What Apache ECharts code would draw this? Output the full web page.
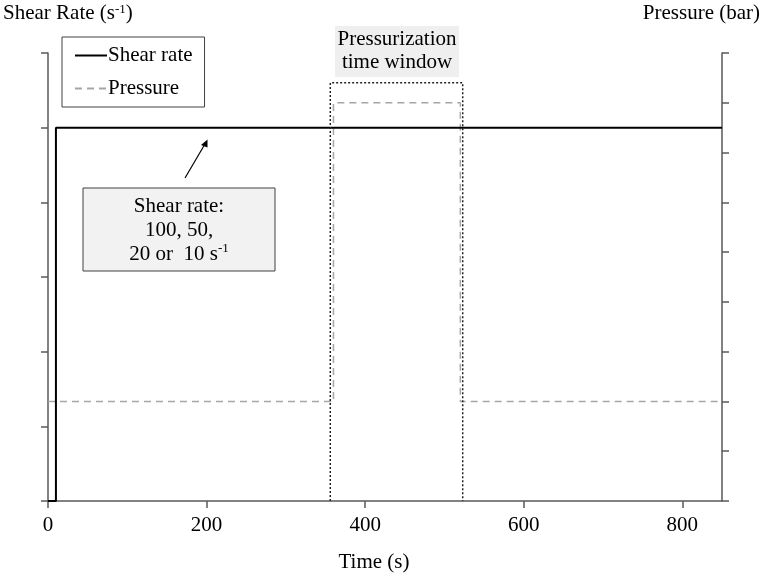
<!DOCTYPE html>
<html>
<head>
<meta charset="utf-8">
<script src="https://cdn.jsdelivr.net/npm/echarts@6/dist/echarts.min.js"></script>
<style>
  html, body { margin: 0; padding: 0; background: #fff; }
  #main { width: 765px; height: 575px; }
</style>
</head>
<body>
<div id="main"></div>
<script>
// 时间轴刻度
var timeTicks = [0, 200, 400, 600, 800];
// 剪切速率 (left axis, 0-6 units)
var shearTime = [0, 10, 10, 850];
var shearRate = [0, 0, 5, 5];
// 压力 (right axis, 0-9 units)
var pressureTime = [0, 360, 360, 520, 520, 850];
var pressure = [2, 2, 8, 8, 2, 2];
// 加压时间窗口
var windowTime = [356, 356, 523, 523];
var windowLevel = [0, 8.4, 8.4, 0];

var FONT = 'Liberation Serif';
var AXIS_COLOR = '#595959';

function pairs(xs, ys) {
  return xs.map(function (x, i) { return [x, ys[i]]; });
}

var chart = echarts.init(document.getElementById('main'));

var option = {
  backgroundColor: '#fff',
  animation: false,
  grid: { left: 48, right: 43, top: 53, bottom: 74 },
  legend: {
    data: ['Shear rate', 'Pressure'],
    left: 62,
    top: 37,
    orient: 'vertical',
    itemWidth: 32,
    itemHeight: 10,
    itemGap: 12,
    padding: [8, 12, 8, 12],
    borderColor: '#404040',
    borderWidth: 1,
    itemStyle: { opacity: 0 },
    textStyle: { fontFamily: FONT, fontSize: 21, color: '#000', padding: [0, 0, 0, -4] }
  },
  xAxis: {
    type: 'value',
    min: 0,
    max: 850,
    interval: 200,
    axisLine: { lineStyle: { color: AXIS_COLOR, width: 1.5 } },
    axisTick: { customValues: timeTicks, length: 7, lineStyle: { color: AXIS_COLOR, width: 1.5 } },
    axisLabel: { customValues: timeTicks, fontFamily: FONT, fontSize: 21, color: '#000', margin: 14 },
    splitLine: { show: false }
  },
  yAxis: [
    {
      type: 'value',
      min: 0,
      max: 6,
      interval: 1,
      axisLine: { show: true, lineStyle: { color: AXIS_COLOR, width: 1.5 } },
      axisTick: { show: true, length: 7, lineStyle: { color: AXIS_COLOR, width: 1.5 } },
      axisLabel: { show: false },
      splitLine: { show: false }
    },
    {
      type: 'value',
      position: 'right',
      min: 0,
      max: 9,
      interval: 1,
      axisLine: { show: true, lineStyle: { color: AXIS_COLOR, width: 1.5 } },
      axisTick: { show: true, length: 7, lineStyle: { color: AXIS_COLOR, width: 1.5 } },
      axisLabel: { show: false },
      splitLine: { show: false }
    }
  ],
  series: [
    {
      name: 'Shear rate',
      type: 'line',
      yAxisIndex: 0,
      symbol: 'none',
      data: pairs(shearTime, shearRate),
      lineStyle: { color: '#000', width: 2 },
      itemStyle: { color: '#000' },
      z: 3
    },
    {
      name: 'Pressure',
      type: 'line',
      yAxisIndex: 1,
      symbol: 'none',
      data: pairs(pressureTime, pressure),
      lineStyle: { color: '#a6a6a6', width: 1.5, type: [7, 5] },
      itemStyle: { color: '#a6a6a6' },
      z: 2
    },
    {
      name: 'window',
      type: 'line',
      yAxisIndex: 1,
      symbol: 'none',
      data: pairs(windowTime, windowLevel),
      lineStyle: { color: '#222', width: 1.5, type: [2, 2] },
      z: 4
    }
  ],
  graphic: [
    {
      type: 'text',
      left: 3,
      top: 3,
      style: {
        text: 'Shear Rate (s{sup|-1})',
        fontFamily: FONT,
        fontSize: 21,
        fill: '#000',
        rich: { sup: { fontFamily: FONT, fontSize: 13, verticalAlign: 'top', padding: [0, 0, 8, 0] } }
      }
    },
    {
      type: 'text',
      right: 5,
      top: 3,
      style: { text: 'Pressure (bar)', fontFamily: FONT, fontSize: 21, fill: '#000' }
    },
    {
      type: 'text',
      x: 374,
      y: 562,
      style: {
        text: 'Time (s)', fontFamily: FONT, fontSize: 21, fill: '#000',
        align: 'center', verticalAlign: 'middle'
      }
    },
    {
      type: 'rect',
      shape: { x: 335, y: 26, width: 124, height: 51 },
      style: { fill: '#efefef' },
      z: 1
    },
    {
      type: 'text',
      x: 397,
      y: 51,
      style: {
        text: 'Pressurization\ntime window', fontFamily: FONT, fontSize: 21, fill: '#000',
        align: 'center', verticalAlign: 'middle', lineHeight: 23
      },
      z: 2
    },
    {
      type: 'rect',
      shape: { x: 83, y: 188, width: 192, height: 83 },
      style: { fill: '#f2f2f2', stroke: '#404040', lineWidth: 1 },
      z: 5
    },
    {
      type: 'text',
      x: 179,
      y: 230,
      style: {
        text: 'Shear rate:\n100, 50,\n20 or  10 s{sup|-1}', fontFamily: FONT, fontSize: 21, fill: '#000',
        align: 'center', verticalAlign: 'middle', lineHeight: 24,
        rich: { sup: { fontFamily: FONT, fontSize: 13, verticalAlign: 'top', padding: [0, 0, 8, 0] } }
      },
      z: 6
    },
    {
      type: 'line',
      shape: { x1: 185, y1: 178, x2: 205, y2: 144 },
      style: { stroke: '#000', lineWidth: 1.2 },
      z: 5
    },
    {
      type: 'polygon',
      shape: { points: [[207.5, 139.5], [201, 145], [207.5, 147.5]] },
      style: { fill: '#000' },
      z: 5
    }
  ]
};

chart.setOption(option);
</script>
</body>
</html>
